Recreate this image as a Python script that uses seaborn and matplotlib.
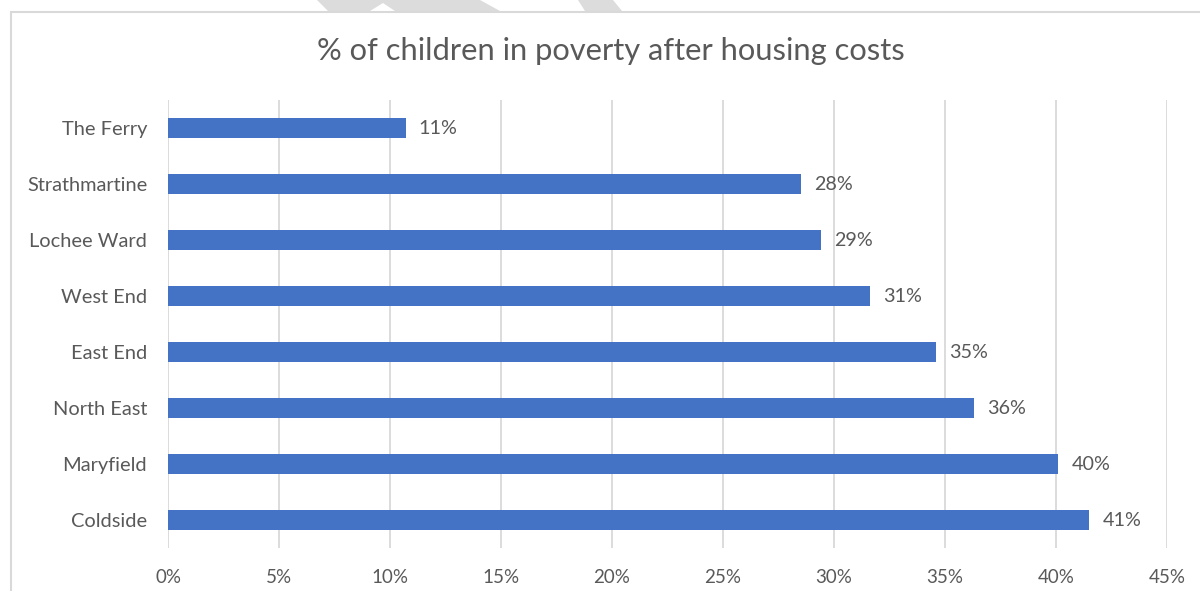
import matplotlib
matplotlib.use("Agg")
import matplotlib.pyplot as plt
import seaborn as sns
import pandas as pd
from matplotlib.patches import Polygon
from matplotlib.lines import Line2D

# ---- data ----
areas = ["The Ferry", "Strathmartine", "Lochee Ward", "West End",
         "East End", "North East", "Maryfield", "Coldside"]
values = [10.7, 28.5, 29.4, 31.6, 34.6, 36.3, 40.1, 41.5]
labels = ["11%", "28%", "29%", "31%", "35%", "36%", "40%", "41%"]
xticks = [0, 5, 10, 15, 20, 25, 30, 35, 40, 45]
xticklabels = ["0%", "5%", "10%", "15%", "20%", "25%", "30%", "35%", "40%", "45%"]
title = "% of children in poverty after housing costs"

df = pd.DataFrame({"area": areas, "value": values})

sns.set_theme(style="white")
plt.rcParams["font.family"] = ["Lato", "DejaVu Sans"]

W, H = 1200, 591
fig = plt.figure(figsize=(W / 100, H / 100), dpi=100)
fig.patch.set_facecolor("white")

# axes placement (pixels)
left, right, top, bottom = 168, 1167, 100, 548
ax = fig.add_axes([left / W, (H - bottom) / H, (right - left) / W, (bottom - top) / H])

text_col = "#595959"
grid_col = "#D9D9D9"
bar_col = "#4472C4"

sns.barplot(data=df, x="value", y="area", orient="h", color=bar_col,
            width=0.34, ax=ax, saturation=1, edgecolor="none", zorder=3)

ax.set_xlim(0, 45)
ax.set_ylim(len(areas) - 0.5, -0.5)
ax.set_xticks(xticks)
ax.set_xticklabels(xticklabels)
ax.set_xlabel("")
ax.set_ylabel("")
for s in ax.spines.values():
    s.set_visible(False)
ax.grid(False)
for xv in xticks:
    ax.axvline(xv, color=grid_col, lw=1.3, zorder=1)
ax.tick_params(axis="x", length=0, pad=15, labelsize=13.5, labelcolor=text_col)
ax.tick_params(axis="y", length=0, pad=15, labelsize=14.4, labelcolor=text_col)

for cont in ax.containers:
    ax.bar_label(cont, labels=labels, padding=9.5, fontsize=14.2, color=text_col)

fig.text(611 / W, 1 - 51 / H, title, ha="center", va="center",
         fontsize=22.2, color=text_col)

# chart border (top and left)
fig.add_artist(Line2D([11 / W, 1.0], [1 - 12 / H, 1 - 12 / H],
                      transform=fig.transFigure, color=grid_col, lw=1.5))
fig.add_artist(Line2D([11 / W, 11 / W], [0, 1 - 12 / H],
                      transform=fig.transFigure, color=grid_col, lw=1.5))

# faint watermark fragments above the border
def px(pts):
    return [(x / W, 1 - y / H) for x, y in pts]

wm_col = "#DCDCDC"
fig.add_artist(Polygon(px([(317, 0), (480, 0), (500, 11), (395, 11), (383, 3),
                           (370, 11), (328, 11)]),
                       closed=True, transform=fig.transFigure,
                       facecolor=wm_col, edgecolor="none"))
fig.add_artist(Polygon(px([(578, 0), (613, 0), (622, 11), (585, 11)]),
                       closed=True, transform=fig.transFigure,
                       facecolor=wm_col, edgecolor="none"))

fig.savefig("out.png", dpi=100, facecolor="white")
